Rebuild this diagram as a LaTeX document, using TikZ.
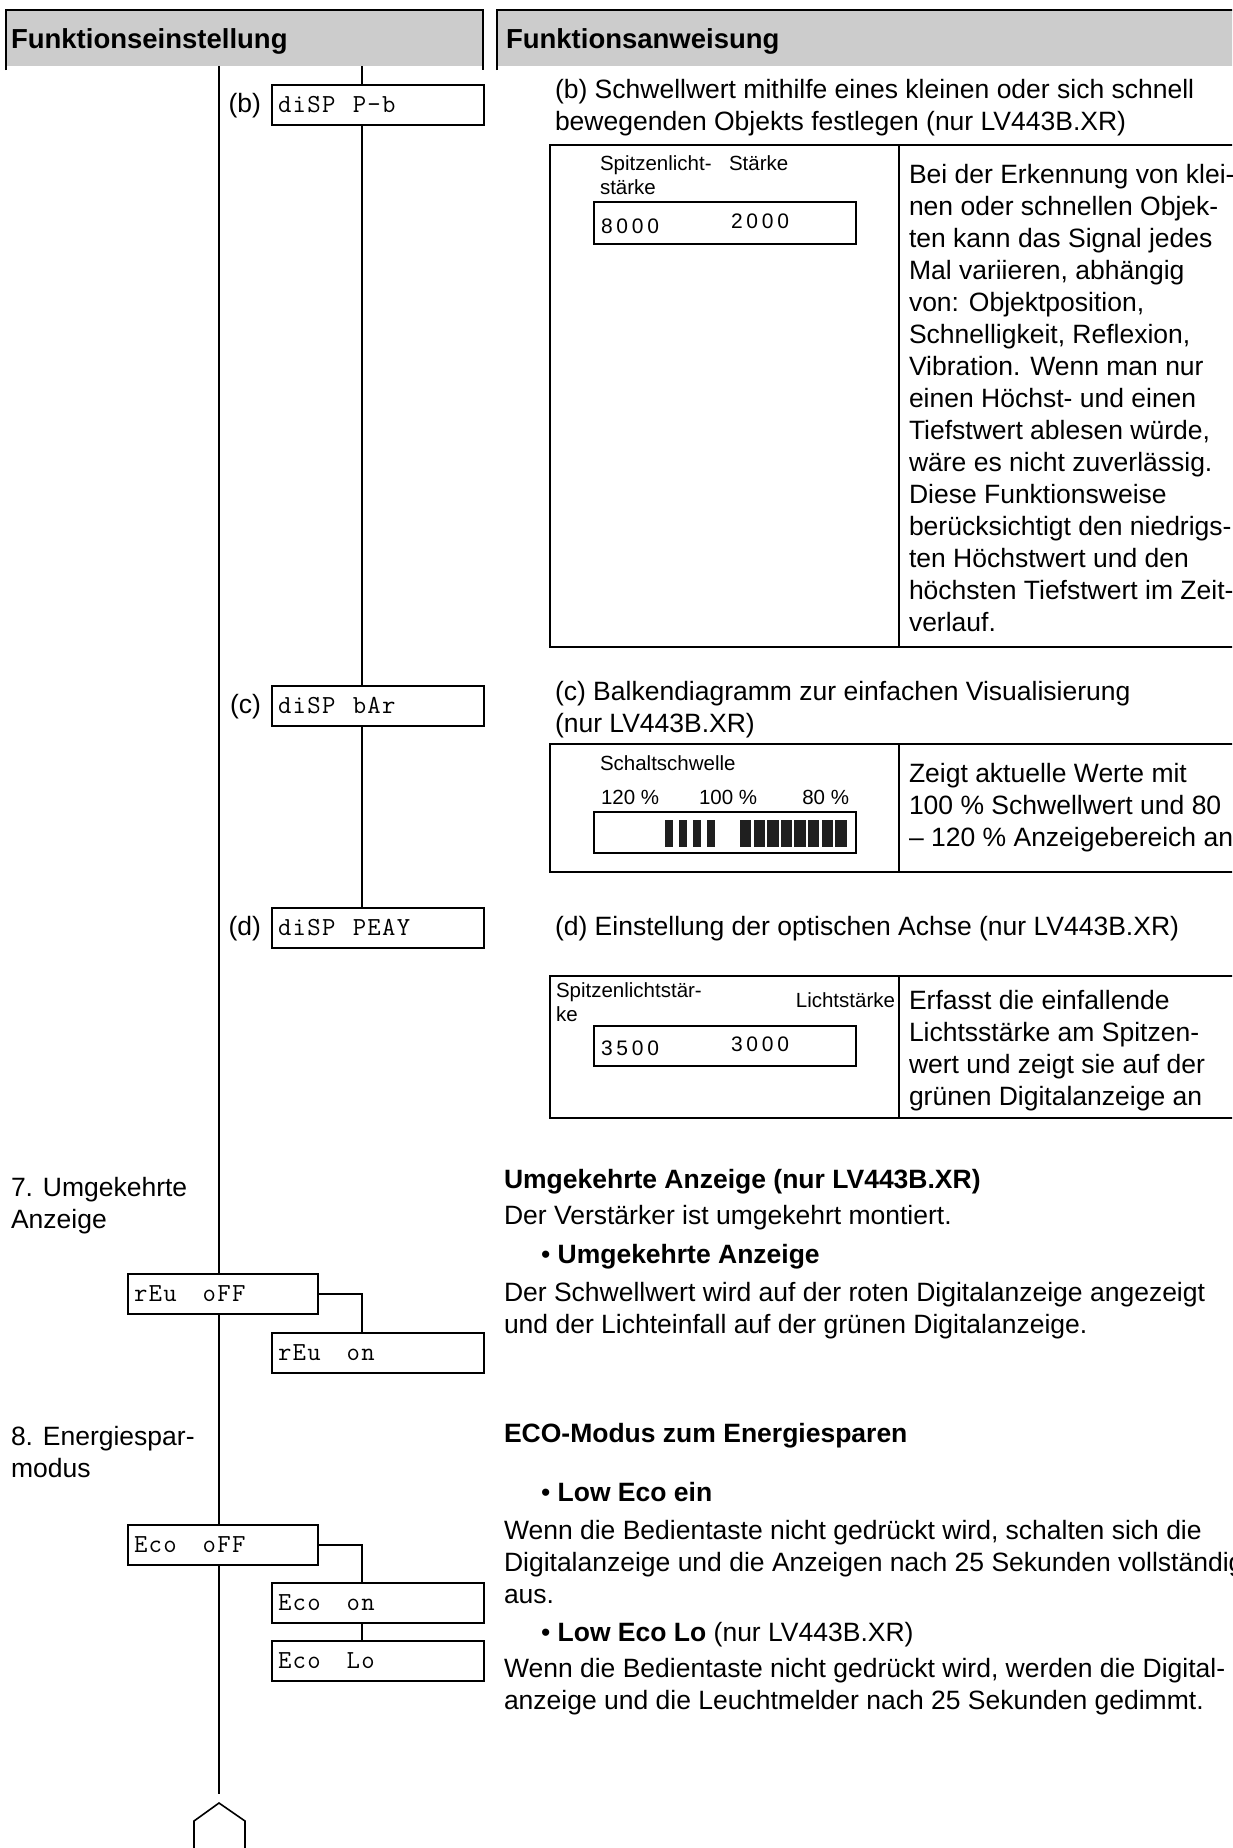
\documentclass[tikz,border=0pt]{standalone}
\usepackage{fontspec}
\setmainfont{Liberation Sans}
\newfontfamily\dispfont[LetterSpace=5]{Latin Modern Mono}
\newfontfamily\digitfont[LetterSpace=18]{Liberation Sans}
\usepackage{tikz}
\usetikzlibrary{positioning,calc}
\definecolor{hdgray}{RGB}{204,204,204}

\begin{document}
\begin{tikzpicture}[
    x=0.5pt, y=-0.5pt, line width=1pt,
    bodytxt/.style={inner sep=0pt, align=left, anchor=north west, font=\fontsize{13.25}{16}\selectfont},
    bodybf/.style={bodytxt, font=\fontsize{13.25}{16}\selectfont\bfseries},
    headtxt/.style={inner sep=0pt, anchor=base west, font=\fontsize{13.75}{16}\selectfont\bfseries},
    smalltxt/.style={inner sep=0pt, align=left, anchor=north west, font=\fontsize{10.25}{11.75}\selectfont},
    dispbox/.style={draw, anchor=west, inner xsep=3pt, inner ysep=0pt, minimum height=20pt, text width=100pt, align=left, font=\fontsize{13}{15}\selectfont\dispfont},
    shortbox/.style={dispbox, text width=89pt},
    digittxt/.style={inner sep=0pt, anchor=west, font=\fontsize{10.5}{12}\selectfont\digitfont},
    barseg/.style={fill=black!88, draw=none}
]
    \useasboundingbox (0,0) rectangle (1232,1848);
    \clip (0,0) rectangle (1232,1848);

    % Header
    \fill[hdgray] (6,10) rectangle (483,66);
    \draw (6,70) -- (6,10) -- (483,10) -- (483,70);
    \fill[hdgray] (497,10) rectangle (1240,66);
    \draw (497,70) -- (497,10) -- (1240,10);
    \node[headtxt] (hdset) at (10,48) {Funktionseinstellung};
    \node[headtxt] (hdinst) at (505,48) {Funktionsanweisung};

    % Setting column
    \coordinate (mtop) at (219,66);
    \coordinate (mbot) at (219,1794);
    \coordinate (stop) at (362,66);

    \node[dispbox] (dispb) at (271,105) {diSP~~P-b};
    \node[dispbox] (dispc) at (271,706) {diSP~~bAr};
    \node[dispbox] (dispd) at (271,928) {diSP~~PEAY};
    \node[bodytxt, left=4.5pt of dispb.base west, anchor=base east] (lbb) {(b)};
    \node[bodytxt, left=4.5pt of dispc.base west, anchor=base east] (lbc) {(c)};
    \node[bodytxt, left=4.5pt of dispd.base west, anchor=base east] (lbd) {(d)};

    \node[bodytxt] (lbrev) at (10,1176) {7. Umgekehrte\\Anzeige};
    \node[shortbox] (revoff) at (127,1294) {rEu~~~oFF};
    \node[dispbox] (revon) at (271,1353) {rEu~~~on};

    \node[bodytxt] (lbeco) at (10,1425) {8. Energiespar-\\modus};
    \node[shortbox] (ecooff) at (127,1545) {Eco~~~oFF};
    \node[dispbox] (ecoon) at (271,1603) {Eco~~~on};
    \node[dispbox] (ecolo) at (271,1661) {Eco~~~Lo};

    % Lines
    \draw (mtop) -- (mtop |- revoff.north);
    \draw (mtop |- revoff.south) -- (mtop |- ecooff.north);
    \draw (mtop |- ecooff.south) -- (mbot);
    \draw (stop) -- (stop |- dispb.north);
    \draw (stop |- dispb.south) -- (stop |- dispc.north);
    \draw (stop |- dispc.south) -- (stop |- dispd.north);
    \draw (revoff.east) -| (stop |- revon.north);
    \draw (ecooff.east) -| (stop |- ecoon.north);
    \draw (stop |- ecoon.south) -- (stop |- ecolo.north);
    \draw[line width=0.8pt] (194,1860) -- (194,1821) -- (219,1803) -- (245,1821) -- (245,1860);

    % Instruction column (b)
    \node[bodytxt] (hdb) at (554,78) {(b) Schwellwert mithilfe eines kleinen oder sich schnell\\bewegenden Objekts festlegen (nur LV443B.XR)};
    \draw (550,145) rectangle (1260,647);
    \draw (899,145) -- (899,647);
    \node[smalltxt] (pkb) at (599,155) {Spitzenlicht-\\stärke};
    \node[smalltxt] (stb) at (728,155) {Stärke};
    \draw (594,202) rectangle (856,244);
    \node[digittxt] (numpb) at (600,226) {8000};
    \node[digittxt] (numsb) at (730,221) {2000};
    \node[bodytxt] (txtb) at (908,163) {Bei der Erkennung von klei-\\nen oder schnellen Objek-\\ten kann das Signal jedes\\Mal variieren, abhängig\\von: Objektposition,\\Schnelligkeit, Reflexion,\\Vibration. Wenn man nur\\einen Höchst- und einen\\Tiefstwert ablesen würde,\\wäre es nicht zuverlässig.\\Diese Funktionsweise\\berücksichtigt den niedrigs-\\ten Höchstwert und den\\höchsten Tiefstwert im Zeit-\\verlauf.};

    % Instruction column (c)
    \node[bodytxt] (hdc) at (554,680) {(c) Balkendiagramm zur einfachen Visualisierung\\(nur LV443B.XR)};
    \draw (550,744) rectangle (1260,872);
    \draw (899,744) -- (899,872);
    \node[smalltxt] (thc) at (599,755) {Schaltschwelle};
    \node[smalltxt] (p120) at (600,789) {120 \%};
    \node[smalltxt] (p100) at (698,789) {100 \%};
    \node[smalltxt, anchor=north east] (p80) at (850,789) {80 \%};
    \draw (594,812) rectangle (856,853);
    \foreach \i in {0,...,3} \fill[barseg] ({665+14*\i},820) rectangle ++(7.7,27);
    \foreach \i in {0,...,7} \fill[barseg] ({740+13.6*\i},820) rectangle ++(11.4,27);
    \node[bodytxt] (txtc) at (908,762) {Zeigt aktuelle Werte mit\\100 \% Schwellwert und 80\\– 120 \% Anzeigebereich an};

    % Instruction column (d)
    \node[bodytxt] (hdd) at (554,915) {(d) Einstellung der optischen Achse (nur LV443B.XR)};
    \draw (550,976) rectangle (1260,1118);
    \draw (899,976) -- (899,1118);
    \node[smalltxt] (pkd) at (555,982) {Spitzenlichtstär-\\ke};
    \node[smalltxt, anchor=north east] (std) at (896,992) {Lichtstärke};
    \draw (594,1026) rectangle (856,1066);
    \node[digittxt] (numpd) at (600,1048) {3500};
    \node[digittxt] (numsd) at (730,1044) {3000};
    \node[bodytxt] (txtd) at (908,989) {Erfasst die einfallende\\Lichtsstärke am Spitzen-\\wert und zeigt sie auf der\\grünen Digitalanzeige an};

    % Reverse display
    \node[bodybf] (hdrev) at (503,1168) {Umgekehrte Anzeige (nur LV443B.XR)};
    \node[bodytxt] (revmount) at (503,1204) {Der Verstärker ist umgekehrt montiert.};
    \node[bodytxt] (revitem) at (540,1243) {\textbullet\ \textbf{Umgekehrte Anzeige}};
    \node[bodytxt] (revtext) at (503,1281) {Der Schwellwert wird auf der roten Digitalanzeige angezeigt\\und der Lichteinfall auf der grünen Digitalanzeige.};

    % ECO mode
    \node[bodybf] (hdeco) at (503,1422) {ECO-Modus zum Energiesparen};
    \node[bodytxt] (ecoitem1) at (540,1481) {\textbullet\ \textbf{Low Eco ein}};
    \node[bodytxt] (ecotext1) at (503,1519) {Wenn die Bedientaste nicht gedrückt wird, schalten sich die\\Digitalanzeige und die Anzeigen nach 25 Sekunden vollständig\\aus.};
    \node[bodytxt] (ecoitem2) at (540,1621) {\textbullet\ \textbf{Low Eco Lo} (nur LV443B.XR)};
    \node[bodytxt] (ecotext2) at (503,1657) {Wenn die Bedientaste nicht gedrückt wird, werden die Digital-\\anzeige und die Leuchtmelder nach 25 Sekunden gedimmt.};
\end{tikzpicture}
\end{document}
